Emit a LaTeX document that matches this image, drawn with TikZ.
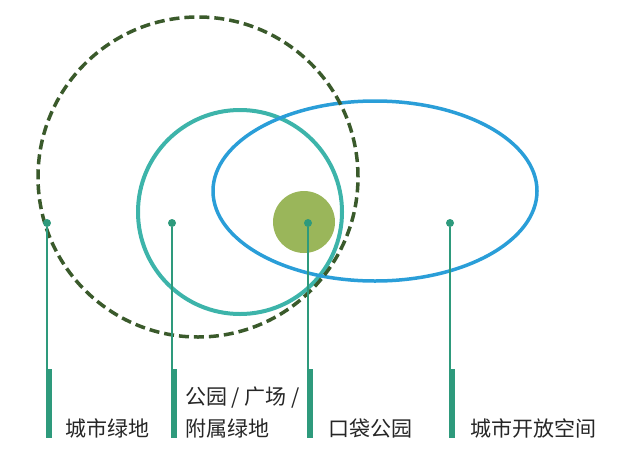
\documentclass[tikz,border=0pt]{standalone}
\usepackage{fontspec}
\newfontfamily\cjk{Noto Sans CJK SC}
\definecolor{darkdash}{HTML}{3A5A2B}
\definecolor{tealring}{HTML}{3DB4AA}
\definecolor{bluering}{HTML}{2A9ED8}
\definecolor{pocketgreen}{HTML}{9AB65A}
\definecolor{leadgreen}{HTML}{2E9A7C}

\begin{document}
\begin{tikzpicture}[x=1pt, y=-1pt,
    dot node/.style = {circle, fill=leadgreen, inner sep=0pt, minimum size=8pt},
    label node/.style = {font=\cjk\fontsize{21}{32}\selectfont, text=black!85, anchor=base west, align=left, inner sep=0pt}
]
\useasboundingbox (0,0) rectangle (617,458);

% --- CÍRCULOS ---
\draw[tealring, line width=4pt] (240,212) circle (102pt);
\draw[bluering, line width=3.5pt] (375,191) ellipse (162pt and 90pt);
\draw[darkdash, line width=3.5pt, dash pattern=on 10pt off 5pt] (198,177) circle (160pt);
\fill[pocketgreen] (304,222) circle (31pt);

% --- LÍNEAS GUÍA ---
\foreach \name/\x in {green/47, attach/172, pocket/308, open/450} {
    \node[dot node] (\name dot) at (\x,223) {};
    \coordinate (\name top) at (\x-1,369);
    \coordinate (\name end) at (\x,438);
    \draw[leadgreen, line width=2pt] (\name dot) -- (\name end);
    \fill[leadgreen] (\name top) rectangle ++(6,69);
}

% --- ETIQUETAS ---
\node[label node] (green label) at (65,436) {城市绿地};
\node[label node] (attach label) at (185,436) {公园 / 广场 /\\附属绿地};
\node[label node] (pocket label) at (328,436) {口袋公园};
\node[label node] (open label) at (470,436) {城市开放空间};

\end{tikzpicture}
\end{document}
